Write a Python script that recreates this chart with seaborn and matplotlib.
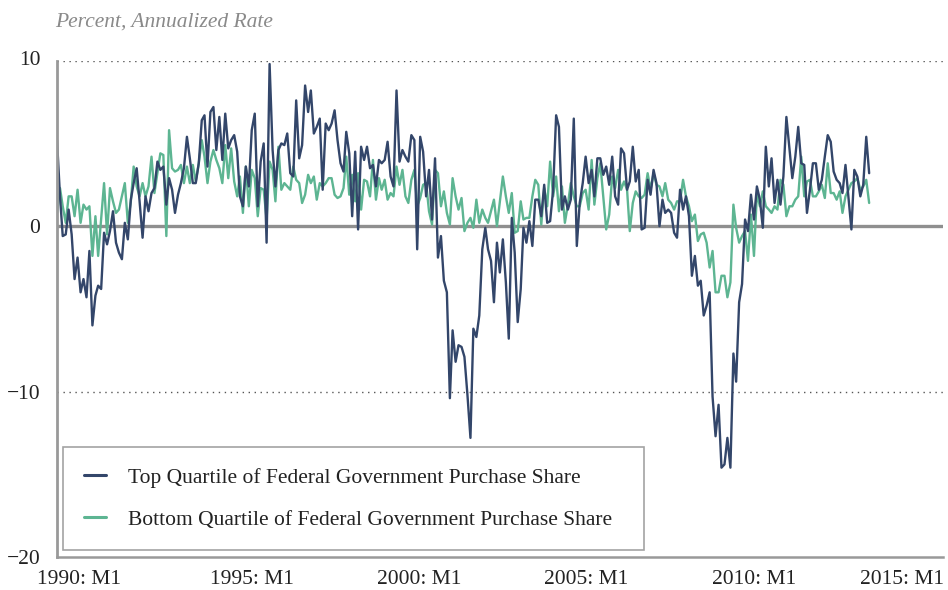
import numpy as np
import pandas as pd
import matplotlib
matplotlib.use("Agg")
import matplotlib.pyplot as plt
import seaborn as sns
from matplotlib.transforms import ScaledTranslation

# ==========================
# DATA (monthly, 1990 M1 - 2012 M12)
# ==========================
TOP_NAME = "Top Quartile of Federal Government Purchase Share"
BOTTOM_NAME = "Bottom Quartile of Federal Government Purchase Share"

top_quartile = [
    5.2, 1.8, -0.6, -0.5, 1.0, -0.5, -3.2, -1.9, -4.0, -3.2, -4.3, -1.5,     # 1990
    -6.0, -4.2, -3.6, -3.8, -0.4, -1.1, -0.3, 0.9, -1.0, -1.6, -2.0, 0.2,    # 1991
    -0.8, 1.6, 2.6, 3.5, 1.5, -0.7, 1.8, 0.9, 2.0, 2.3, 3.9, 3.4,            # 1992
    3.6, 1.3, 2.9, 2.2, 0.8, 1.9, 2.6, 3.5, 5.4, 4.1, 2.6, 2.6,              # 1993
    3.8, 6.4, 6.7, 3.6, 6.9, 7.2, 4.6, 6.6, 4.0, 6.8, 4.7, 5.2,              # 1994
    5.5, 4.5, 1.8, 1.2, 3.6, 2.4, 5.8, 6.8, 1.2, 3.9, 5.0, -1.0,             # 1995
    9.8, 4.6, 2.4, 4.6, 5.0, 4.9, 5.6, 3.2, 3.0, 7.6, 4.1, 4.9,              # 1996
    8.5, 6.9, 8.2, 5.6, 6.0, 6.5, 2.2, 6.2, 5.8, 6.2, 7.0, 5.2,              # 1997
    3.8, 3.3, 5.7, 4.4, 0.6, 4.5, -0.2, 4.8, 4.0, 4.8, 3.5, 3.7,             # 1998
    2.4, 4.0, 3.8, 4.0, 5.1, 3.0, 2.4, 8.2, 3.9, 4.6, 4.2, 3.9,              # 1999
    5.5, 5.2, -1.4, 5.4, 4.5, 1.8, 3.4, 0.4, 4.1, -1.9, -0.6, -3.3,          # 2000
    -4.0, -10.4, -6.3, -8.2, -7.2, -7.3, -7.9, -10.2, -12.8, -6.2, -6.7, -5.4,  # 2001
    -1.4, -0.1, -1.4, -2.1, -4.6, -1.0, -2.8, -0.8, -3.4, -6.8, 0.5, -1.6,   # 2002
    -5.8, -3.8, -0.1, -1.0, 0.3, -1.2, 1.6, 1.6, 0.6, 2.5, 0.2, 0.3,         # 2003
    2.2, 6.7, 6.0, 1.0, 1.8, 1.0, 1.6, 6.5, -1.2, 1.4, 2.6, 4.2,             # 2004
    2.6, 3.4, 1.8, 4.1, 4.1, 3.1, 3.6, 2.5, 4.2, 1.8, 1.3, 4.7,              # 2005
    4.4, 2.2, 2.7, 4.8, 2.7, 3.4, -0.2, -0.1, 2.8, 1.9, 3.4, 2.6,            # 2006
    0.0, 1.6, 0.8, 1.0, 0.8, -0.4, -0.7, 2.2, 1.0, 1.8, 0.6, -3.0,           # 2007
    -1.8, -3.6, -3.3, -5.4, -4.8, -4.0, -10.3, -12.7, -10.8, -14.6, -14.4, -12.8,  # 2008
    -14.6, -7.7, -9.4, -4.6, -3.5, 0.4, -0.3, 1.9, 0.4, 2.4, 1.6, -0.1,      # 2009
    4.8, 2.4, 4.1, 1.4, 2.8, 1.3, 3.0, 6.6, 4.7, 2.9, 4.2, 6.0,              # 2010
    3.8, 3.7, 0.8, 2.2, 3.8, 3.8, 2.2, 2.8, 4.2, 5.5, 5.1, 3.3,              # 2011
    2.8, 2.6, 2.0, 3.7, 1.8, -0.2, 3.4, 3.0, 1.8, 2.5, 5.4, 3.2,             # 2012
]

bottom_quartile = [
    0.8, 2.3, 1.2, 0.2, 1.8, 1.8, 0.6, 2.2, 0.2, 1.3, 1.0, 1.2,              # 1990
    -1.8, 0.6, -1.8, 0.4, 2.6, -0.5, 2.3, 1.5, 0.8, 1.0, 1.8, 2.6,           # 1991
    0.2, 1.5, 3.6, 2.4, 1.8, 2.6, 1.8, 2.4, 4.2, 2.0, 3.2, 4.4,              # 1992
    4.3, -0.6, 5.8, 3.5, 3.3, 3.4, 3.7, 2.6, 3.6, 2.6, 3.7, 2.7,             # 1993
    3.8, 5.2, 4.2, 2.6, 3.9, 4.6, 4.0, 3.5, 2.6, 4.9, 2.9, 4.7,              # 1994
    2.7, 1.8, 3.0, 0.8, 3.6, 1.2, 3.4, 2.9, 0.6, 2.3, 2.2, 0.4,              # 1995
    3.9, 3.4, 1.5, 4.8, 2.2, 2.6, 2.4, 2.2, 3.6, 2.8, 2.6, 1.4,              # 1996
    1.9, 3.1, 2.6, 3.0, 1.6, 2.6, 2.4, 2.6, 2.9, 2.9, 1.9, 1.7,              # 1997
    1.8, 2.3, 4.2, 1.9, 3.1, 1.5, 3.2, 1.0, 2.8, 2.7, 1.8, 4.0,              # 1998
    1.6, 2.9, 2.2, 2.8, 1.6, 2.0, 1.8, 3.6, 2.5, 3.4, 1.8, 1.4,              # 1999
    2.8, 3.4, 1.2, 1.7, 2.5, 2.6, 0.9, 0.1, 3.4, 3.2, 1.2, 2.1,              # 2000
    0.8, 0.1, 2.9, 1.8, 1.0, 1.7, -0.3, 0.2, 0.5, -0.1, 1.6, 0.2,            # 2001
    1.0, 0.5, 0.2, 0.9, 1.6, 0.0, 1.5, 3.0, 1.8, 0.8, 2.0, -0.4,             # 2002
    -0.3, 1.5, 0.4, 0.5, 0.5, 1.8, 2.8, 2.5, 0.1, 2.3, 1.2, 3.9,             # 2003
    1.8, 3.0, 0.9, 2.4, 0.2, 1.3, 2.6, 1.8, 1.2, 1.2, 2.0, 2.2,              # 2004
    1.0, 4.0, 1.3, 2.9, 3.8, 1.8, -0.2, 0.7, 3.0, 2.3, 3.4, 2.2,             # 2005
    2.7, 2.2, -0.3, 1.4, 2.1, 1.8, 1.7, 1.9, 3.2, 2.2, 3.2, 2.5,             # 2006
    2.4, 1.8, 2.6, 1.6, 1.4, 1.0, 1.5, 1.5, 2.8, 1.8, 1.2, 0.3,              # 2007
    0.7, -0.9, -0.5, -0.4, -1.0, -2.5, -1.5, -4.0, -4.0, -3.0, -3.0, -4.3,   # 2008
    -3.4, 1.3, -0.1, -1.0, -0.6, -0.3, -2.1, 0.7, -1.8, 2.0, 1.2, 2.1,       # 2009
    1.2, 1.0, 0.8, 1.2, 1.0, 2.8, 2.5, 0.6, 1.2, 1.2, 1.6, 1.8,              # 2010
    4.2, 1.8, 2.7, 2.8, 1.8, 1.8, 2.1, 2.5, 1.7, 3.8, 2.0, 2.0,              # 2011
    1.6, 2.1, 0.8, 1.8, 2.2, 2.6, 2.7, 2.9, 2.2, 2.4, 2.8, 1.4,              # 2012
]

x_tick_years = [1990, 1995, 2000, 2005, 2010, 2015]
x_tick_labels = [f"{y}: M1" for y in x_tick_years]
y_ticks = [-20, -10, 0, 10]
y_tick_labels = ["\u221220", "\u221210", "0", "10"]

# ==========================
# STYLE
# ==========================
DARK = "#33466a"
GREEN = "#5db592"
GREY = "#999999"
TEXT = "#222222"
FS = 15.5

sns.set_style("white")
plt.rcParams["font.family"] = ["Liberation Serif", "DejaVu Serif"]
plt.rcParams["axes.unicode_minus"] = True

dates = pd.date_range("1990-01-01", periods=len(top_quartile), freq="MS")
df = pd.DataFrame({
    "date": np.concatenate([dates, dates]),
    "value": top_quartile + bottom_quartile,
    "series": [TOP_NAME] * len(top_quartile) + [BOTTOM_NAME] * len(bottom_quartile),
})

# ==========================
# PLOT
# ==========================
fig = plt.figure(figsize=(9.48, 5.9), dpi=100)
ax = fig.add_axes([57 / 948, 33 / 590, 886 / 948, 496.3 / 590])

sns.lineplot(
    data=df, x="date", y="value", hue="series",
    hue_order=[BOTTOM_NAME, TOP_NAME],
    palette={TOP_NAME: DARK, BOTTOM_NAME: GREEN},
    linewidth=1.7, ax=ax, legend=True,
)

ax.axhline(0, color="#8f8f8f", lw=2.4, zorder=1)
for yv in (10, -10):
    ax.axhline(yv, color="#555555", lw=1.0, ls=(0, (1, 3.3)), zorder=1)

ax.set_xlim(pd.Timestamp("1990-01-01"), pd.Timestamp("2015-01-01"))
ax.set_ylim(-20, 10)

ax.set_xticks([pd.Timestamp(f"{y}-01-01") for y in x_tick_years])
ax.set_xticklabels(x_tick_labels)
ax.set_yticks(y_ticks)
ax.set_yticklabels(y_tick_labels)
ax.set_xlabel("")
ax.set_ylabel("")

ax.tick_params(axis="x", direction="in", length=6, width=1, color=GREY,
               pad=9, labelsize=FS, labelcolor=TEXT)
ax.tick_params(axis="y", length=0, pad=12, labelsize=FS, labelcolor=TEXT)

# labels in the original sit slightly off their ticks
label_shift_px = [22, 18, 8, -3, -12, -41]
for lab, dx in zip(ax.get_xticklabels(), label_shift_px):
    lab.set_transform(lab.get_transform() + ScaledTranslation(dx / 100, 0, fig.dpi_scale_trans))
ax.get_yticklabels()[-1].set_transform(
    ax.get_yticklabels()[-1].get_transform() + ScaledTranslation(0, 3 / 100, fig.dpi_scale_trans))

for side in ("top", "right"):
    ax.spines[side].set_visible(False)
ax.spines["left"].set_color(GREY)
ax.spines["left"].set_linewidth(2.0)
ax.spines["bottom"].set_color(GREY)
ax.spines["bottom"].set_linewidth(1.8)

# ==========================
# LEGEND
# ==========================
handles, labels = ax.get_legend_handles_labels()
order = [labels.index(TOP_NAME), labels.index(BOTTOM_NAME)]
leg = ax.legend(
    [handles[i] for i in order], [labels[i] for i in order],
    loc="lower left", bbox_to_anchor=(0.0071, 0.0141, 0.6554, 0.2),
    mode="expand", borderaxespad=0, frameon=True, fancybox=False,
    edgecolor="#8c8c8c", fontsize=FS, handlelength=1.05, handletextpad=1.0,
    labelspacing=1.0, borderpad=0.95,
)
leg.get_frame().set_linewidth(1.2)
for t in leg.get_texts():
    t.set_color(TEXT)
for h in leg.get_lines():
    h.set_linewidth(2.2)

fig.text(55 / 948, 1 - 22 / 590, "Percent, Annualized Rate", style="italic",
         color="#8a8a8a", fontsize=FS, ha="left", va="center")

plt.savefig("out.png", dpi=100)
